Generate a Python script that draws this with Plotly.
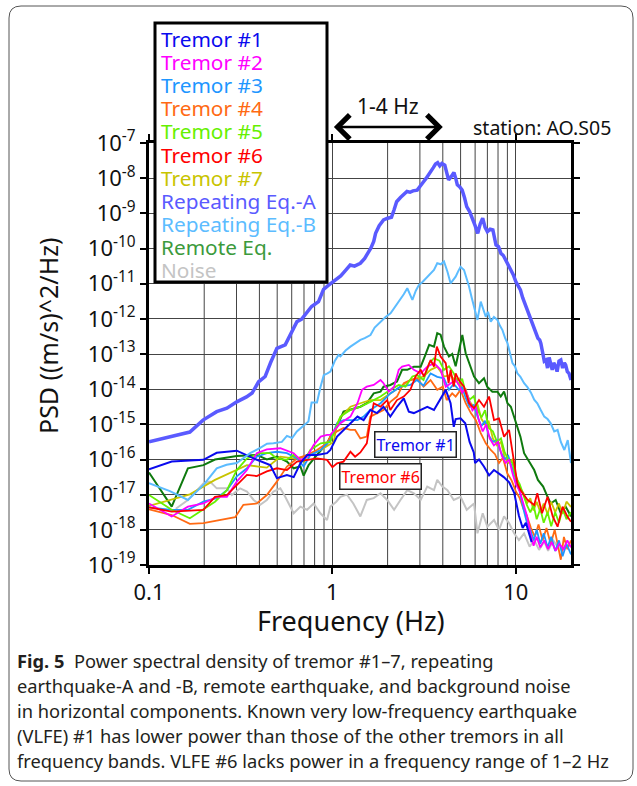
import numpy as np
import plotly.graph_objects as go

# ---------------- data (frequency in Hz, log10 of PSD in (m/s)^2/Hz) ----------------
repA_f = [0.1, 0.13, 0.167, 0.197, 0.234, 0.266, 0.301, 0.34, 0.365, 0.396, 0.43, 0.46, 0.498, 0.553, 0.6,
          0.641, 0.68, 0.72, 0.77, 0.84, 0.895, 0.95, 1.02, 1.11, 1.18, 1.25, 1.32, 1.42, 1.5, 1.58, 1.62,
          1.68, 1.72, 1.8, 1.9, 2.0, 2.1, 2.17, 2.24, 2.35, 2.45, 2.55, 2.65, 2.75, 2.9, 3.0, 3.14, 3.25,
          3.35, 3.43, 3.55, 3.65, 3.75, 3.85, 3.95, 4.1, 4.2, 4.3, 4.45, 4.6, 4.7, 4.8, 4.95, 5.1, 5.25,
          5.4, 5.6, 5.8, 6.0, 6.2, 6.4, 6.6, 6.8, 7.0, 7.25, 7.5, 7.8, 8.05, 8.3, 8.55, 8.8, 9.1, 9.4, 9.7,
          10.0, 10.3, 10.6, 10.9, 11.3, 11.7, 12.1, 12.4, 12.8, 13.2, 13.5, 13.7, 14.0, 14.3, 14.6, 14.9,
          15.2, 15.5, 15.8, 16.1, 16.5, 16.8, 17.2, 17.6, 18.0, 18.4, 18.7, 19.1, 19.5, 20.0]
repA_lp = [-15.50, -15.36, -15.22, -14.88, -14.64, -14.54, -14.36, -14.22, -14.11, -13.79, -13.64, -13.25,
           -12.84, -12.74, -12.35, -12.08, -12.01, -11.85, -11.65, -11.51, -11.16, -11.05, -10.94, -10.78,
           -10.62, -10.47, -10.50, -10.42, -10.28, -10.10, -9.99, -9.80, -9.57, -9.35, -9.19, -9.14, -9.11,
           -8.90, -8.67, -8.55, -8.45, -8.38, -8.40, -8.36, -8.34, -8.22, -8.10, -8.00, -7.88, -7.82, -7.70,
           -7.60, -7.56, -7.65, -7.58, -7.63, -7.85, -8.05, -7.95, -7.84, -8.00, -8.19, -8.25, -8.34, -8.55,
           -8.81, -8.95, -9.14, -9.35, -9.57, -9.30, -9.14, -9.40, -9.52, -9.45, -9.47, -9.90, -9.95, -10.14,
           -10.20, -10.33, -10.45, -10.61, -10.75, -10.94, -11.05, -11.18, -11.40, -11.61, -11.80, -12.03,
           -12.15, -12.32, -12.55, -12.60, -12.70, -12.95, -13.20, -13.17, -13.40, -13.10, -13.26, -13.45,
           -13.25, -13.36, -13.50, -13.20, -13.17, -13.40, -13.25, -13.31, -13.50, -13.55, -13.74]

repB_f = [0.1, 0.13, 0.163, 0.2, 0.234, 0.265, 0.301, 0.33, 0.356, 0.404, 0.44, 0.477, 0.53, 0.565, 0.603,
          0.64, 0.67, 0.71, 0.74, 0.77, 0.824, 0.86, 0.897, 0.94, 0.975, 1.03, 1.08, 1.106, 1.18, 1.254,
          1.33, 1.422, 1.5, 1.613, 1.7, 1.83, 1.95, 2.075, 2.2, 2.353, 2.45, 2.56, 2.65, 2.73, 2.85, 2.96,
          3.1, 3.29, 3.45, 3.58, 3.73, 3.9, 4.06, 4.24, 4.41, 4.55, 4.7, 4.85, 5.0, 5.22, 5.4, 5.56, 5.75,
          5.92, 6.18, 6.44, 6.65, 6.86, 7.05, 7.3, 7.6, 7.94, 8.2, 8.46, 8.75, 9.01, 9.3, 9.59, 9.9, 10.2,
          10.6, 11.1, 11.6, 12.1, 12.6, 13.1, 13.7, 14.3, 14.9, 15.5, 16.2, 16.9, 17.6, 18.4, 19.2, 20.0]
repB_lp = [-16.67, -16.90, -17.15, -16.70, -16.25, -16.15, -16.10, -15.95, -15.82, -15.67, -15.55, -15.54,
           -15.50, -15.33, -15.39, -15.20, -15.11, -15.00, -14.92, -14.38, -14.38, -13.95, -13.60, -13.55,
           -13.50, -13.20, -13.03, -13.07, -12.90, -12.79, -12.70, -12.60, -12.55, -12.46, -12.25, -12.08,
           -11.95, -11.84, -11.65, -11.46, -11.30, -11.13, -11.30, -11.46, -11.20, -11.04, -10.95, -10.80,
           -10.70, -10.61, -10.42, -10.45, -10.37, -10.66, -10.99, -10.90, -10.80, -10.65, -10.52, -10.61,
           -10.85, -11.08, -11.40, -11.65, -12.03, -11.51, -11.75, -11.94, -11.80, -12.08, -11.95, -12.03,
           -12.20, -12.32, -12.55, -12.69, -12.98, -13.26, -13.35, -13.55, -13.65, -13.83, -13.95, -14.10,
           -14.30, -14.40, -14.60, -14.78, -14.85, -14.97, -15.20, -15.16, -15.50, -15.73, -15.45, -16.10]

t1_f = [0.1, 0.133, 0.198, 0.234, 0.301, 0.372, 0.458, 0.498, 0.565, 0.615, 0.669, 0.728, 0.824, 0.935,
        0.975, 1.06, 1.2, 1.37, 1.48, 1.61, 1.75, 1.9, 2.07, 2.25, 2.45, 2.61, 2.78, 3.03, 3.29, 3.58, 3.98,
        4.15, 4.41, 4.59, 4.7, 5.0, 5.3, 5.6, 5.9, 6.0, 6.3, 6.7, 7.15, 7.6, 8.1, 8.6, 9.2, 9.8, 10.4, 10.9,
        11.35, 11.8, 12.2]
t1_lp = [-16.28, -16.06, -16.01, -15.81, -15.75, -15.97, -16.16, -16.53, -16.44, -16.50, -16.11, -15.87,
         -15.87, -15.82, -15.73, -15.35, -15.07, -14.78, -14.88, -14.59, -14.68, -14.50, -14.78, -14.50,
         -14.26, -14.64, -14.68, -14.59, -14.50, -14.59, -14.21, -14.02, -14.40, -15.07, -14.85, -14.83,
         -14.97, -15.50, -15.80, -16.10, -16.00, -16.20, -16.45, -16.30, -16.40, -16.50, -16.65, -16.95,
         -17.60, -17.95, -17.80, -18.10, -18.35]

t2_f = [0.1, 0.133, 0.163, 0.198, 0.234, 0.266, 0.301, 0.342, 0.387, 0.439, 0.52, 0.615, 0.669, 0.728,
        0.79, 0.864, 0.935, 0.975, 1.106, 1.254, 1.37, 1.45, 1.54, 1.68, 1.83, 1.9, 2.03, 2.17, 2.3, 2.4,
        2.61, 2.78, 3.03, 3.29, 3.58, 3.89, 4.15, 4.41, 4.7, 4.9, 5.1, 5.3, 5.56, 5.8, 6.06, 6.3, 6.6, 6.9,
        7.2, 7.6, 8.0, 8.4, 8.8, 9.2, 9.6, 10.0, 10.5, 11.0, 11.5, 12.0, 12.5, 13.0, 13.6, 14.3, 15.0,
        15.7, 16.5, 17.3, 18.2, 19.1, 20.0]
t2_lp = [-17.25, -17.62, -17.34, -17.25, -17.06, -17.06, -16.63, -16.30, -15.82, -15.71, -15.68, -15.82,
         -16.01, -15.92, -15.59, -15.35, -15.30, -15.30, -14.97, -14.78, -14.40, -14.02, -13.93, -13.88,
         -13.74, -13.83, -14.07, -13.93, -13.45, -13.36, -13.31, -13.45, -13.55, -13.36, -13.26, -13.45,
         -13.93, -13.83, -13.74, -13.88, -14.10, -14.00, -14.35, -14.60, -14.50, -14.90, -15.20, -15.00,
         -15.40, -15.60, -15.50, -15.90, -16.10, -16.00, -16.40, -16.70, -16.90, -17.30, -17.60, -18.10,
         -18.45, -18.20, -18.50, -18.30, -18.55, -18.35, -18.60, -18.40, -18.55, -18.30, -18.50]

t3_f = [0.1, 0.133, 0.163, 0.198, 0.234, 0.266, 0.301, 0.342, 0.387, 0.439, 0.498, 0.565, 0.641, 0.697,
        0.758, 0.864, 0.975, 1.06, 1.15, 1.254, 1.37, 1.48, 1.61, 1.83, 2.07, 2.35, 2.66, 2.89, 3.14, 3.43,
        3.73, 4.06, 4.32, 4.59, 4.89, 5.1, 5.33, 5.6, 5.9, 6.2, 6.5, 6.8, 7.1, 7.5, 7.9, 8.3, 8.7, 9.1, 9.6,
        10.0, 10.5, 11.0, 11.5, 12.0, 12.5, 13.0, 13.6, 14.2, 14.9, 15.6, 16.4, 17.2, 18.0, 18.9, 20.0]
t3_lp = [-17.36, -17.43, -17.43, -17.20, -17.10, -16.87, -16.48, -16.25, -15.92, -15.82, -15.78, -15.82,
         -15.97, -16.20, -15.87, -15.73, -15.45, -14.97, -14.88, -14.88, -14.88, -14.78, -14.59, -14.40,
         -14.12, -13.93, -13.88, -13.74, -13.90, -13.55, -13.65, -13.69, -14.02, -13.85, -14.02, -13.95,
         -14.25, -14.50, -14.45, -14.80, -15.05, -14.90, -15.30, -15.50, -15.45, -15.80, -16.00, -15.90,
         -16.30, -16.60, -16.90, -17.40, -17.80, -18.00, -18.30, -18.00, -18.40, -18.10, -18.50, -18.20,
         -18.60, -18.30, -18.75, -18.40, -18.70]

t4_f = [0.1, 0.133, 0.167, 0.198, 0.234, 0.295, 0.327, 0.387, 0.439, 0.498, 0.565, 0.641, 0.728, 0.824,
        0.935, 0.975, 1.06, 1.15, 1.254, 1.33, 1.42, 1.54, 1.61, 1.75, 1.9, 2.07, 2.25, 2.45, 2.66, 2.89,
        3.14, 3.43, 3.73, 4.0, 4.2, 4.5, 4.7, 5.0, 5.33, 5.69, 6.06, 6.44, 6.86, 7.3, 7.7, 8.1, 8.5, 9.0,
        9.5, 10.0, 10.5, 11.0, 11.5, 12.1, 12.7, 13.3, 14.0, 14.7, 15.5, 16.3, 17.1, 17.6, 18.3, 19.1, 20.0]
t4_lp = [-17.42, -17.58, -17.83, -17.81, -17.74, -17.64, -17.29, -17.25, -17.01, -16.63, -16.20, -15.97,
         -15.87, -15.73, -15.54, -15.35, -15.20, -15.10, -15.16, -15.16, -15.40, -15.35, -14.78, -14.68,
         -14.59, -14.36, -14.21, -13.83, -13.74, -13.69, -13.93, -13.74, -14.02, -13.93, -14.31, -14.12,
         -14.21, -14.02, -14.40, -14.68, -14.88, -15.25, -15.54, -15.73, -15.85, -16.10, -15.95, -16.40,
         -16.60, -16.90, -17.10, -17.40, -17.60, -17.95, -18.20, -17.85, -18.30, -17.95, -18.40, -18.00,
         -18.55, -18.85, -18.20, -18.55, -18.30]

t5_f = [0.1, 0.133, 0.167, 0.229, 0.266, 0.301, 0.342, 0.404, 0.458, 0.498, 0.565, 0.615, 0.697, 0.758,
        0.864, 0.975, 1.016, 1.106, 1.254, 1.42, 1.61, 1.83, 2.07, 2.3, 2.5, 2.73, 2.89, 3.14, 3.37, 3.58,
        3.83, 4.06, 4.32, 4.59, 4.89, 5.1, 5.33, 5.6, 5.9, 6.2, 6.5, 6.8, 7.1, 7.5, 7.9, 8.3, 8.7, 9.1, 9.6,
        10.0, 10.5, 11.0, 11.5, 12.0, 12.5, 13.0, 13.6, 14.2, 14.9, 15.6, 16.4, 17.2, 18.0, 18.9, 20.0]
t5_lp = [-17.01, -17.43, -17.67, -17.20, -16.87, -16.30, -15.97, -15.82, -15.82, -15.97, -16.01, -15.87,
         -16.06, -15.73, -15.54, -15.50, -15.25, -14.78, -14.59, -14.50, -14.36, -14.21, -14.02, -13.88,
         -13.93, -13.64, -13.60, -13.74, -13.26, -13.12, -13.19, -13.45, -13.35, -13.55, -13.88, -13.70,
         -14.10, -14.30, -14.20, -14.60, -14.80, -14.60, -15.10, -15.20, -15.50, -15.40, -15.80, -16.00,
         -16.10, -16.50, -16.70, -17.00, -17.30, -17.50, -17.30, -17.70, -17.40, -17.80, -17.50, -17.90,
         -17.50, -17.80, -17.40, -17.70, -17.50]

t6_f = [0.1, 0.133, 0.198, 0.229, 0.266, 0.301, 0.342, 0.387, 0.439, 0.498, 0.565, 0.641, 0.728, 0.824,
        0.935, 1.0, 1.06, 1.15, 1.254, 1.33, 1.42, 1.54, 1.61, 1.68, 1.83, 1.99, 2.07, 2.25, 2.45, 2.66,
        2.84, 3.03, 3.16, 3.43, 3.58, 3.71, 3.89, 4.15, 4.3, 4.41, 4.59, 4.7, 4.89, 5.22, 5.56, 5.92, 6.3,
        6.71, 7.15, 7.61, 8.1, 8.63, 9.19, 9.79, 10.2, 10.6, 11.6, 12.6, 13.1, 13.9, 14.9, 15.9, 16.9,
        18.0, 19.1, 20.0]
t6_lp = [-17.36, -17.48, -17.43, -17.06, -17.01, -16.72, -16.44, -16.47, -16.34, -16.25, -16.30, -16.06,
         -16.01, -15.97, -16.01, -16.22, -16.11, -16.06, -15.78, -15.92, -15.80, -15.54, -14.90, -14.40,
         -14.50, -14.31, -14.59, -14.31, -14.21, -14.02, -13.64, -13.45, -13.64, -13.17, -13.36, -12.79,
         -13.07, -13.26, -13.83, -13.45, -13.93, -13.55, -13.74, -13.93, -14.40, -14.54, -14.31, -14.50,
         -14.21, -14.88, -14.83, -15.35, -15.16, -16.01, -16.68, -16.87, -17.15, -17.29, -16.96, -17.53,
         -17.06, -17.62, -17.91, -17.34, -17.62, -17.77]

t7_f = [0.1, 0.167, 0.229, 0.301, 0.342, 0.395, 0.439, 0.52, 0.615, 0.728, 0.864, 1.016, 1.06, 1.106,
        1.254, 1.42, 1.61, 1.83, 2.07, 2.35, 2.66, 2.89, 3.14, 3.43, 3.73, 4.06, 4.41, 4.7, 4.9, 5.1, 5.33,
        5.6, 5.9, 6.2, 6.5, 6.8, 7.1, 7.5, 7.9, 8.3, 8.7, 9.1, 9.6, 10.0, 10.5, 11.0, 11.5, 12.0, 12.5,
        13.0, 13.6, 14.2, 14.9, 15.6, 16.4, 17.2, 18.0, 18.9, 20.0]
t7_lp = [-17.32, -16.99, -16.58, -16.30, -16.16, -16.20, -16.23, -15.92, -15.97, -15.92, -15.73, -15.50,
         -15.00, -14.80, -14.50, -14.40, -14.31, -14.31, -14.12, -13.93, -13.74, -13.69, -13.64, -13.45,
         -13.36, -13.64, -13.60, -13.78, -13.70, -14.00, -14.00, -14.35, -14.50, -14.45, -14.85, -15.00,
         -14.90, -15.40, -15.60, -15.50, -15.95, -16.10, -16.00, -16.45, -16.80, -16.95, -17.25, -17.10,
         -17.45, -17.20, -17.50, -17.25, -17.55, -17.20, -17.50, -17.25, -17.55, -17.20, -17.35]

remote_f = [0.1, 0.133, 0.163, 0.198, 0.229, 0.301, 0.387, 0.439, 0.498, 0.565, 0.615, 0.669, 0.697, 0.742,
            0.824, 0.935, 0.975, 1.06, 1.15, 1.33, 1.42, 1.54, 1.68, 1.83, 1.9, 2.07, 2.25, 2.4, 2.56, 2.78,
            3.03, 3.21, 3.37, 3.58, 3.73, 3.89, 4.06, 4.32, 4.5, 4.7, 5.0, 5.11, 5.33, 5.69, 5.92, 6.3, 6.71,
            6.98, 7.45, 7.94, 8.28, 8.63, 9.01, 9.4, 9.79, 10.2, 10.6, 11.1, 11.9, 12.6, 13.2, 14.1, 14.9,
            15.5, 16.5, 17.6, 18.7, 20.0]
remote_lp = [-16.37, -17.34, -16.25, -16.16, -16.00, -15.90, -15.87, -16.00, -15.92, -16.06, -16.25, -16.20,
             -16.46, -16.16, -15.87, -15.54, -15.35, -15.07, -14.64, -14.54, -14.50, -14.40, -14.12, -14.07,
             -13.93, -13.88, -13.78, -13.45, -13.45, -13.36, -13.36, -13.03, -12.74, -12.79, -12.41, -12.45,
             -12.79, -13.07, -13.00, -13.35, -12.69, -12.46, -12.98, -13.36, -13.64, -13.83, -13.69, -13.93,
             -14.07, -14.07, -14.21, -14.07, -14.40, -14.50, -14.78, -15.07, -15.35, -15.82, -16.10, -16.30,
             -16.58, -16.77, -17.06, -17.25, -17.15, -17.53, -17.34, -17.62]

noise_f = [0.14, 0.163, 0.198, 0.215, 0.234, 0.266, 0.283, 0.314, 0.342, 0.372, 0.404, 0.439, 0.477, 0.52,
           0.553, 0.589, 0.615, 0.669, 0.728, 0.79, 0.86, 0.935, 0.975, 1.05, 1.106, 1.2, 1.3, 1.42, 1.54,
           1.68, 1.83, 1.99, 2.17, 2.35, 2.56, 2.78, 3.03, 3.29, 3.58, 3.73, 3.98, 4.24, 4.59, 5.0, 5.4,
           5.92, 6.18, 6.6, 7.0, 7.61, 8.1, 8.63, 9.19, 9.79, 10.4, 11.1, 11.9, 12.6, 13.4, 14.3, 15.0,
           16.0, 17.0]
noise_lp = [-17.40, -17.15, -16.68, -16.63, -16.82, -16.82, -17.01, -16.82, -16.91, -17.15, -17.29, -17.15,
            -16.91, -16.82, -17.06, -17.34, -17.53, -17.34, -17.43, -17.25, -17.53, -17.72, -17.34, -17.20,
            -17.06, -17.00, -17.25, -17.62, -17.15, -17.10, -16.96, -17.15, -17.43, -17.15, -16.87, -16.96,
            -17.15, -16.77, -16.87, -16.58, -16.77, -16.87, -17.15, -17.06, -17.43, -17.25, -18.10, -17.53,
            -17.91, -17.72, -18.00, -17.62, -17.81, -18.10, -18.29, -18.10, -18.48, -18.29, -18.57, -18.33,
            -18.60, -18.30, -18.50]

legend_names = ["Tremor #1", "Tremor #2", "Tremor #3", "Tremor #4", "Tremor #5", "Tremor #6", "Tremor #7",
                "Repeating Eq.-A", "Repeating Eq.-B", "Remote Eq.", "Noise"]
y_tick_exponents = [-7, -8, -9, -10, -11, -12, -13, -14, -15, -16, -17, -18, -19]
x_tick_values = [0.1, 1, 10]
x_tick_labels = ["0.1", "1", "10"]
minor_freqs = [0.2, 0.3, 0.4, 0.5, 0.6, 0.7, 0.8, 0.9, 2, 3, 4, 5, 6, 7, 8, 9]

caption_lines = [
    "<b>Fig. 5</b>  Power spectral density of tremor #1–7, repeating",
    "earthquake-A and -B, remote earthquake, and background noise",
    "in horizontal components. Known very low-frequency earthquake",
    "(VLFE) #1 has lower power than those of the other tremors in all",
    "frequency bands. VLFE #6 lacks power in a frequency range of 1–2 Hz",
]

# ---------------- styles ----------------
colors = {
    "Tremor #1": "#0a0aee", "Tremor #2": "#ff00ff", "Tremor #3": "#1e96ff", "Tremor #4": "#ff6a13",
    "Tremor #5": "#66f000", "Tremor #6": "#ff0000", "Tremor #7": "#c8c400", "Repeating Eq.-A": "#5a5aff",
    "Repeating Eq.-B": "#5cbcff", "Remote Eq.": "#0e7a0e", "Noise": "#c4c4c4",
}
legend_colors = dict(colors)
legend_colors["Remote Eq."] = "#3c9a3c"

FONT = "Noto Sans"
W, H = 637, 786
L, R, T, B = 149, 571, 143, 565


def px(xp):
    return (xp - L) / (R - L)


def py(yp):
    return (B - yp) / (B - T)


fig = go.Figure()

draw_order = [
    ("Noise", noise_f, noise_lp, 2.0),
    ("Remote Eq.", remote_f, remote_lp, 2.0),
    ("Tremor #7", t7_f, t7_lp, 1.8),
    ("Tremor #4", t4_f, t4_lp, 1.8),
    ("Tremor #3", t3_f, t3_lp, 1.8),
    ("Tremor #5", t5_f, t5_lp, 1.8),
    ("Tremor #2", t2_f, t2_lp, 1.8),
    ("Tremor #6", t6_f, t6_lp, 1.8),
    ("Tremor #1", t1_f, t1_lp, 2.0),
    ("Repeating Eq.-B", repB_f, repB_lp, 2.0),
    ("Repeating Eq.-A", repA_f, repA_lp, 3.5),
]
for name, f, lp, w in draw_order:
    fig.add_trace(go.Scatter(x=f, y=np.power(10.0, lp), mode="lines", name=name,
                             line=dict(color=colors[name], width=w), showlegend=False,
                             hoverinfo="skip"))

shapes = []
for f in minor_freqs:
    shapes.append(dict(type="line", xref="x", yref="paper", x0=f, x1=f, y0=0, y1=1,
                       line=dict(color="#444444", width=1), layer="below"))

# legend box
shapes.append(dict(type="rect", xref="paper", yref="paper", x0=px(155), x1=px(327), y0=py(282), y1=py(23),
                   line=dict(color="black", width=3), fillcolor="white", layer="above"))

# outer rounded frame
xl, xr, yt, yb = px(9), px(633), py(6), py(781)
r = 12 / (R - L)
path = (f"M {xl + r},{yt} L {xr - r},{yt} Q {xr},{yt} {xr},{yt - r} L {xr},{yb + r} "
        f"Q {xr},{yb} {xr - r},{yb} L {xl + r},{yb} Q {xl},{yb} {xl},{yb + r} "
        f"L {xl},{yt - r} Q {xl},{yt} {xl + r},{yt} Z")
shapes.append(dict(type="path", xref="paper", yref="paper", path=path,
                   line=dict(color="#555555", width=1), layer="below"))


def note(x, y, text, size, color="#111111", xanchor="center", **kw):
    return dict(xref="paper", yref="paper", x=x, y=y, xanchor=xanchor, yanchor="middle", showarrow=False,
                text=text, font=dict(family=FONT, size=size, color=color), **kw)


annotations = []
for i, name in enumerate(legend_names):
    annotations.append(note(px(159), py(39 + 23.1 * i), name, 20.8, legend_colors[name], xanchor="left"))

# 1-4 Hz arrow
arrow_y = py(127)
annotations.append(dict(xref="x", yref="paper", x=np.log10(4.0), y=arrow_y, axref="x", ayref="pixel",
                        ax=np.log10(1.0), ay=0, showarrow=True, arrowhead=4, startarrowhead=4,
                        arrowside="end+start", arrowwidth=2.6, arrowsize=1.8, startarrowsize=1.8,
                        arrowcolor="black", text=""))
annotations.append(note(px(388), py(106), "1-4 Hz", 21))
annotations.append(note(px(613), py(127), "station: AO.S05", 19.5, xanchor="right"))

# in-plot labels
annotations.append(note(px(415), py(444), "Tremor #1", 16, colors["Tremor #1"], bgcolor="white",
                        bordercolor="#222222", borderwidth=1.5, borderpad=1))
annotations.append(note(px(380.5), py(476.5), "Tremor #6", 16, colors["Tremor #6"], bgcolor="white",
                        bordercolor="#222222", borderwidth=1.5, borderpad=1))

# axis titles
annotations.append(note(px(48), py(336), "PSD ((m/s)^2/Hz)", 25, textangle=-90))
annotations.append(note(px(351), py(620), "Frequency (Hz)", 27))

# caption
for i, line in enumerate(caption_lines):
    annotations.append(note(px(15), py(660 + 25 * i), line, 18.3, "#231f20", xanchor="left"))

axis_common = dict(type="log", ticks="outside", ticklen=6, tickwidth=1.5, tickcolor="black", showline=True,
                   linewidth=3, linecolor="black", mirror="ticks", showgrid=True, gridcolor="#444444",
                   gridwidth=1, zeroline=False, tickfont=dict(family=FONT, size=22, color="#111111"))

fig.update_layout(
    width=W, height=H, margin=dict(l=L, r=W - R, t=T, b=H - B, autoexpand=False),
    paper_bgcolor="white", plot_bgcolor="white", showlegend=False,
    xaxis=dict(range=[-1, np.log10(20.0)], tickvals=x_tick_values, ticktext=x_tick_labels, **axis_common),
    yaxis=dict(range=[-19, -7], tickvals=[10.0 ** e for e in y_tick_exponents],
               ticktext=[f"10<sup>{e}</sup>" for e in y_tick_exponents], **axis_common),
    shapes=shapes, annotations=annotations,
)

fig.write_html("out.html")
